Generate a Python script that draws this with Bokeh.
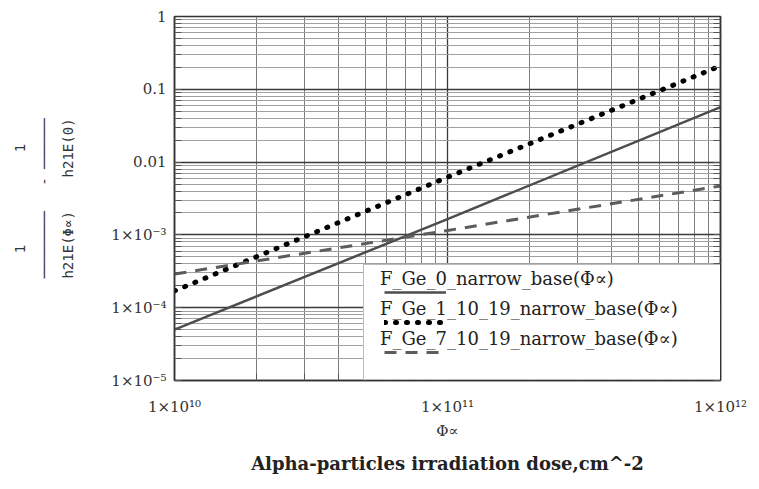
from bokeh.plotting import figure
from bokeh.models import FixedTicker, LogAxis, Legend, LegendItem, Title
from bokeh.embed import file_html
from bokeh.resources import INLINE

# ---- data ----
dose = [1e10, 1e11, 1e12]
f_ge_0 = [5.0e-5, 1.65e-3, 5.7e-2]
f_ge_1_10_19 = [1.7e-4, 6.2e-3, 2.1e-1]
f_ge_7_10_19 = [2.9e-4, 1.15e-3, 4.7e-3]

legend_labels = ["F_Ge_0_narrow_base(Φ∝)",
                 "F_Ge_1_10_19_narrow_base(Φ∝)",
                 "F_Ge_7_10_19_narrow_base(Φ∝)"]

x_major = [1e10, 1e11, 1e12]
x_tick_labels = ["1×10¹⁰", "1×10¹¹", "1×10¹²"]
y_major = [1e-5, 1e-4, 1e-3, 1e-2, 1e-1, 1.0]
y_tick_labels = ["1×10⁻⁵", "1×10⁻⁴", "1×10⁻³", "0.01", "0.1", "1"]

x_label = "Φ∝"
bottom_title = "Alpha-particles irradiation dose,cm^-2"
# y label: 1/h21E(Φ∝) - 1/h21E(0), three monospaced rows (numerators, bars, denominators)
NB = "\u00a0"
y_label_rows = [NB * 3 + "1" + NB * 11 + "1" + NB * 3,
                "─" * 8 + NB * 3 + "-" + NB + "─" * 6,
                "h21E(Φ∝)" + NB * 4 + "h21E(0)"]

x_minor = [m * 10.0 ** e for e in range(10, 12) for m in range(1, 10)]
y_minor = [m * 10.0 ** e for e in range(-5, 0) for m in range(1, 10)]

SERIF = "DejaVu Serif"

p = figure(width=751, height=481, x_axis_type="log", y_axis_type="log",
           x_range=(1e10, 1e12), y_range=(1e-5, 1),
           output_backend="svg", toolbar_location=None,
           min_border_left=174, min_border_right=31,
           min_border_top=16, min_border_bottom=98,
           background_fill_color="white", border_fill_color="white")

xt = FixedTicker(ticks=x_major, minor_ticks=x_minor)
yt = FixedTicker(ticks=y_major, minor_ticks=y_minor)
p.xaxis.ticker = xt
p.yaxis.ticker = yt
p.xgrid.ticker = xt
p.ygrid.ticker = yt

p.xaxis.major_label_overrides = dict(zip(x_major, x_tick_labels))
p.yaxis.major_label_overrides = dict(zip(y_major, y_tick_labels))

for ax in (p.xaxis, p.yaxis):
    ax.major_label_text_font = SERIF
    ax.major_label_text_font_size = "15px"
    ax.major_label_text_color = "#333333"
    ax.axis_line_color = "#333333"
    ax.axis_line_width = 1.5
    ax.major_tick_in = 12
    ax.major_tick_out = 0
    ax.minor_tick_in = 7
    ax.minor_tick_out = 0
    ax.major_tick_line_color = "#333333"
    ax.minor_tick_line_color = "#555555"

p.xaxis.major_label_standoff = 17
p.yaxis.major_label_standoff = 8
p.xaxis.axis_label = x_label
p.xaxis.axis_label_text_font = SERIF
p.xaxis.axis_label_text_font_style = "normal"
p.xaxis.axis_label_text_font_size = "15px"
p.xaxis.axis_label_text_color = "#333333"
p.xaxis.axis_label_standoff = 3

# blank spacer label on the y axis keeps the rotated formula clear of the tick labels
p.yaxis.axis_label = NB
p.yaxis.axis_label_text_font_size = "15px"
p.yaxis.axis_label_standoff = 8

right_axis = LogAxis(ticker=yt, major_label_text_font_size="4px",
                     major_label_text_alpha=0.0, major_label_standoff=0,
                     major_tick_in=12, major_tick_out=0, minor_tick_in=7, minor_tick_out=0,
                     axis_line_color="#333333", axis_line_width=1.5,
                     major_tick_line_color="#333333", minor_tick_line_color="#555555")
p.add_layout(right_axis, "right")

p.xgrid.grid_line_color = "#3a3a3a"
p.xgrid.grid_line_width = 1.3
p.xgrid.minor_grid_line_color = "#7d7d7d"
p.xgrid.minor_grid_line_width = 1
p.ygrid.grid_line_color = "#3a3a3a"
p.ygrid.grid_line_width = 1.3
p.ygrid.minor_grid_line_color = "#a0a0a0"
p.ygrid.minor_grid_line_width = 1
p.outline_line_color = "#333333"
p.outline_line_width = 1.5

r0 = p.line(dose, f_ge_0, line_color="#4d4d4d", line_width=2.5)
r1 = p.line(dose, f_ge_1_10_19, line_color="black", line_width=5,
            line_dash="1 10", line_cap="round")
r2 = p.line(dose, f_ge_7_10_19, line_color="#5c5c5c", line_width=3, line_dash="12 9")

# white legend box holding the line samples
legend_samples = Legend(items=[LegendItem(label=" ", renderers=[r]) for r in (r0, r1, r2)],
                        location=(189, 0), glyph_width=62, glyph_height=14,
                        label_standoff=0, label_width=255, label_height=14, spacing=16,
                        padding=20, background_fill_color="white", background_fill_alpha=1.0,
                        border_line_color="#777777", border_line_width=1,
                        label_text_font=SERIF, label_text_font_size="8px")
p.add_layout(legend_samples)

# entry texts, each sitting above its sample (transparent legend on top)
legend_texts = Legend(items=[LegendItem(label=lab, renderers=[]) for lab in legend_labels],
                      location=(205, 31), glyph_width=1, glyph_height=16,
                      label_standoff=0, label_height=16, spacing=9, padding=0,
                      background_fill_alpha=0.0, border_line_color=None,
                      label_text_font=SERIF, label_text_font_size="18px",
                      label_text_color="#222222")
p.add_layout(legend_texts)

# rotated y-axis label as one three-row title
p.add_layout(Title(text="\n".join(y_label_rows), align="center", offset=31, standoff=10,
                   text_font="DejaVu Sans Mono", text_font_size="14px",
                   text_font_style="normal", text_line_height=1.5,
                   text_color="#333333"), "left")

p.add_layout(Title(text=bottom_title, align="center", offset=8, standoff=16,
                   text_font=SERIF, text_font_size="18px", text_font_style="bold",
                   text_color="#222222"), "below")

open("out.html", "w").write(file_html(p, INLINE))
